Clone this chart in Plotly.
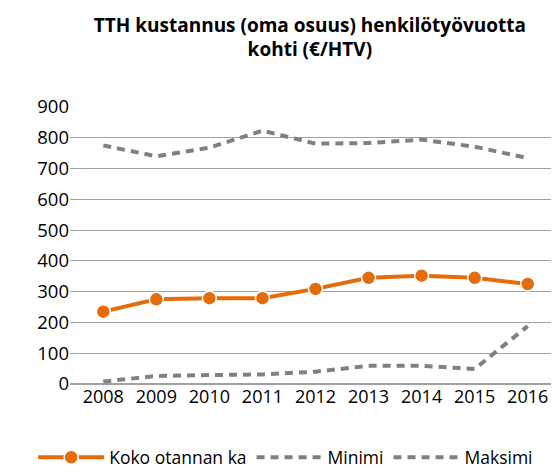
import plotly.graph_objects as go

years = ["2008", "2009", "2010", "2011", "2012", "2013", "2014", "2015", "2016"]
koko_otannan_ka = [235, 275, 279, 279, 309, 345, 352, 345, 325]
minimi = [8, 26, 29, 31, 40, 59, 59, 49, 188]
maksimi = [775, 740, 768, 823, 781, 783, 794, 771, 734]
y_ticks = [0, 100, 200, 300, 400, 500, 600, 700, 800, 900]

orange = "#E46C0A"
gray = "#808080"
font_family = "Open Sans, Liberation Sans, sans-serif"

fig = go.Figure()
fig.add_trace(go.Scatter(
    x=years, y=koko_otannan_ka, name="Koko otannan ka", mode="lines+markers",
    line=dict(color=orange, width=4),
    marker=dict(color=orange, size=14, line=dict(color="white", width=1.5)),
))
fig.add_trace(go.Scatter(
    x=years, y=minimi, name="Minimi", mode="lines",
    line=dict(color=gray, width=4, dash="8px,6px"),
))
fig.add_trace(go.Scatter(
    x=years, y=maksimi, name="Maksimi", mode="lines",
    line=dict(color=gray, width=4, dash="8px,6px"),
))

fig.update_layout(
    width=559, height=473,
    margin=dict(l=62, r=6, t=99, b=87),
    paper_bgcolor="white", plot_bgcolor="white",
    font=dict(family=font_family, color="#000000", size=16),
    title=dict(
        text="<b>TTH kustannus (oma osuus) henkilötyövuotta<br>kohti (€/HTV)</b>",
        x=0.54, xanchor="center", y=0.95, yanchor="top",
        font=dict(family=font_family, size=19, color="#000000"),
    ),
    xaxis=dict(
        type="category", showgrid=False, zeroline=False, showline=False,
        ticks="", tickfont=dict(size=18),
    ),
    yaxis=dict(
        range=[0, 900], tickmode="array", tickvals=y_ticks, showgrid=True,
        gridcolor="#A0A0A0", gridwidth=1, zeroline=True, zerolinecolor="#A0A0A0",
        showline=False, ticks="", ticksuffix="\u00a0\u00a0\u00a0",
        tickfont=dict(size=18.5),
    ),
    legend=dict(
        orientation="h", x=-0.075, xanchor="left", y=-0.265, yanchor="middle",
        font=dict(size=17.5), itemwidth=66, tracegroupgap=0,
    ),
    showlegend=True,
)

fig.write_html("out.html")
